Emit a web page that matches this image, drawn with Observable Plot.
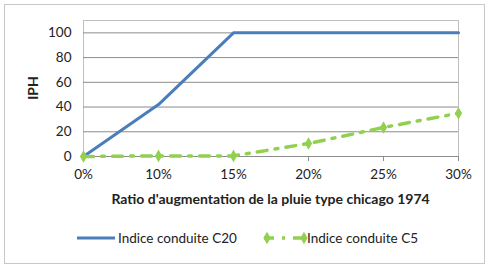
<!DOCTYPE html>
<html><head><meta charset="utf-8">
<script src="https://cdn.jsdelivr.net/npm/d3@7"></script>
<script src="https://cdn.jsdelivr.net/npm/@observablehq/plot@0.6"></script>
<style>
body{margin:0;background:#fff;font-family:Lato,"Open Sans",sans-serif;}
#wrap{position:relative;width:491px;height:270px;}
#frame{position:absolute;left:4px;top:4px;width:481px;height:260px;border:1px solid #c8c8c8;box-sizing:border-box;}
#chart{position:absolute;left:0;top:0;}
#legend{position:absolute;left:0;top:229px;width:491px;height:20px;font-size:13.5px;color:#222;}
#legend svg{position:absolute;left:0;top:0;}
</style></head>
<body><div id="wrap"><div id="frame"></div><div id="chart"></div><div id="legend"></div></div>
<script>
const categories = ["0%", "10%", "15%", "20%", "25%", "30%"];
const c20 = [0, 42, 100, 100, 100, 100];
const c5 = [0, 0.5, 0.5, 10.5, 23.5, 35];
const seriesNames = ["Indice conduite C20", "Indice conduite C5"];
const yTicks = [0, 20, 40, 60, 80, 100];

const d20 = categories.map((c, i) => ({c, v: c20[i]}));
const d5 = categories.map((c, i) => ({c, v: c5[i]}));
const blue = "#4A7EBB", green = "#92D050";
const xLabel = "Ratio d'augmentation de la pluie type chicago 1974";

const plot = Plot.plot({
  width: 491, height: 215,
  marginLeft: 83, marginRight: 33, marginTop: 20, marginBottom: 59,
  style: {fontFamily: "Lato, 'Open Sans', sans-serif", fontSize: "13.5px", color: "#222", background: "transparent"},
  x: {type: "point", domain: categories, padding: 0},
  y: {domain: [0, 110]},
  marks: [
    Plot.frame({stroke: "#bfbfbf"}),
    Plot.gridY(yTicks, {stroke: "#8c8c8c", strokeOpacity: 1, strokeWidth: 1}),
    Plot.axisX({tickSize: 5, tickPadding: 8, stroke: "#8c8c8c", label: null}),
    Plot.axisY({ticks: yTicks, tickSize: 0, tickPadding: 12, label: null}),
    Plot.line(d20, {x: "c", y: "v", stroke: blue, strokeWidth: 3}),
    Plot.line(d5, {x: "c", y: "v", stroke: green, strokeWidth: 3.5, strokeDasharray: "10,8,3,8"}),
    Plot.dot(d5, {x: "c", y: "v", symbol: "diamond", fill: green, r: 3.8})
  ]
});
const svg = d3.select(plot);
svg.append("text").attr("x", (83 + 458) / 2).attr("y", 204).attr("text-anchor", "middle")
  .attr("font-weight", "bold").attr("font-size", 14).attr("fill", "#222").text(xLabel);
svg.append("text").attr("transform", "translate(38,88) rotate(-90)").attr("text-anchor", "middle")
  .attr("font-weight", "bold").attr("font-size", 14).attr("fill", "#222").text("IPH");
document.getElementById("chart").appendChild(plot);

// legend
const lg = d3.select("#legend").append("svg").attr("width", 491).attr("height", 20);
lg.append("line").attr("x1", 77).attr("x2", 115).attr("y1", 9).attr("y2", 9).attr("stroke", blue).attr("stroke-width", 3);
lg.append("text").attr("x", 118).attr("y", 13.5).text(seriesNames[0]).attr("fill", "#222");
lg.append("line").attr("x1", 264).attr("x2", 304).attr("y1", 9).attr("y2", 9).attr("stroke", green).attr("stroke-width", 3.5).attr("stroke-dasharray", "10,8,3,8");
lg.append("path").attr("d", d3.symbol(d3.symbolDiamond, 45)()).attr("transform", "translate(267,9)").attr("fill", green);
lg.append("path").attr("d", d3.symbol(d3.symbolDiamond, 45)()).attr("transform", "translate(304,9)").attr("fill", green);
lg.append("text").attr("x", 307).attr("y", 13.5).text(seriesNames[1]).attr("fill", "#222");
</script></body></html>
